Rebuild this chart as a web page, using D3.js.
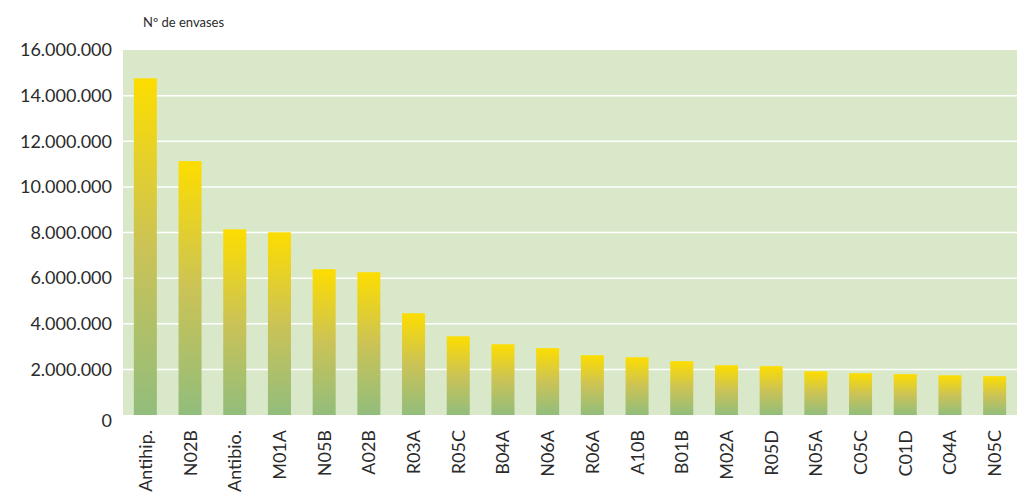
<!DOCTYPE html>
<html>
<head>
<meta charset="utf-8">
<script src="https://cdn.jsdelivr.net/npm/d3@7"></script>
<style>
  html, body { margin: 0; padding: 0; background: #ffffff; }
  svg { display: block; }
  text { font-family: "Lato", "Open Sans", sans-serif; fill: #2b2b2b; }
</style>
</head>
<body>
<svg id="chart" width="1018" height="495"></svg>
<script>
// Envases dispensados por grupo terapéutico
const categories = ["Antihip.", "N02B", "Antibio.", "M01A", "N05B", "A02B", "R03A", "R05C", "B04A", "N06A",
                    "R06A", "A10B", "B01B", "M02A", "R05D", "N05A", "C05C", "C01D", "C04A", "N05C"];
const envases = [14760000, 11130000, 8140000, 8010000, 6390000, 6260000, 4460000, 3450000, 3100000, 2930000,
                 2620000, 2530000, 2360000, 2180000, 2140000, 1920000, 1830000, 1790000, 1740000, 1700000];
const yTicks = [0, 2000000, 4000000, 6000000, 8000000, 10000000, 12000000, 14000000, 16000000];
const yTitle = "Nº de envases";

const svg = d3.select("#chart");
const margin = { left: 123, right: 1, top: 50, bottom: 80 };
const W = 1018, H = 495;
const x0 = margin.left, x1 = W - margin.right;
const yTop = margin.top, yBot = H - margin.bottom;

const x = d3.scaleBand().domain(categories).range([x0, x1]).paddingInner(0.485).paddingOuter(0.2425);
const y = d3.scaleLinear().domain([0, 16000000]).range([yBot, yTop]);

const fmt = v => d3.format(",")(v).replace(/,/g, ".");

// gradient: yellow at the top of each bar, green at its base
const defs = svg.append("defs");
const grad = defs.append("linearGradient").attr("id", "barGrad")
  .attr("x1", 0).attr("y1", 0).attr("x2", 0).attr("y2", 1);
grad.append("stop").attr("offset", "0%").attr("stop-color", "#fddd00");
grad.append("stop").attr("offset", "50%").attr("stop-color", "#cbc356");
grad.append("stop").attr("offset", "100%").attr("stop-color", "#92bd7c");

// plot background
svg.append("rect")
  .attr("x", x0).attr("y", yTop)
  .attr("width", x1 - x0).attr("height", yBot - yTop)
  .attr("fill", "#d9e8c9");

// horizontal grid lines
svg.append("g").selectAll("line")
  .data(yTicks.filter(d => d > 0 && d < 16000000))
  .join("line")
  .attr("x1", x0).attr("x2", x1)
  .attr("y1", d => y(d)).attr("y2", d => y(d))
  .attr("stroke", "#ffffff").attr("stroke-width", 1.5);

// bars
svg.append("g").selectAll("rect")
  .data(categories.map((c, i) => ({ c, v: envases[i] })))
  .join("rect")
  .attr("x", d => x(d.c))
  .attr("width", x.bandwidth())
  .attr("y", d => y(d.v))
  .attr("height", d => y(0) - y(d.v))
  .attr("fill", "url(#barGrad)");

// y axis labels
const yAxis = d3.axisLeft(y).tickValues(yTicks).tickFormat(fmt).tickSize(0).tickPadding(11);
const gy = svg.append("g").attr("transform", `translate(${x0},0)`).call(yAxis);
gy.select(".domain").remove();
gy.selectAll("text").attr("font-size", 18).attr("fill", "#2b2b2b")
  .style("font-family", "Lato, 'Open Sans', sans-serif");
gy.selectAll(".tick").filter(d => d === 0).select("text").attr("dy", "0.62em");

// x axis labels, rotated
const xAxis = d3.axisBottom(x).tickSize(0).tickPadding(0);
const gx = svg.append("g").attr("transform", `translate(0,${yBot})`).call(xAxis);
gx.select(".domain").remove();
gx.selectAll("text")
  .attr("font-size", 18).attr("fill", "#2b2b2b")
  .style("font-family", "Lato, 'Open Sans', sans-serif")
  .attr("text-anchor", "end")
  .attr("transform", "rotate(-90)")
  .attr("x", -15).attr("y", 0).attr("dy", "0.36em");

// axis title
svg.append("text")
  .attr("x", 143).attr("y", 27)
  .attr("font-size", 13)
  .text(yTitle);
</script>
</body>
</html>
